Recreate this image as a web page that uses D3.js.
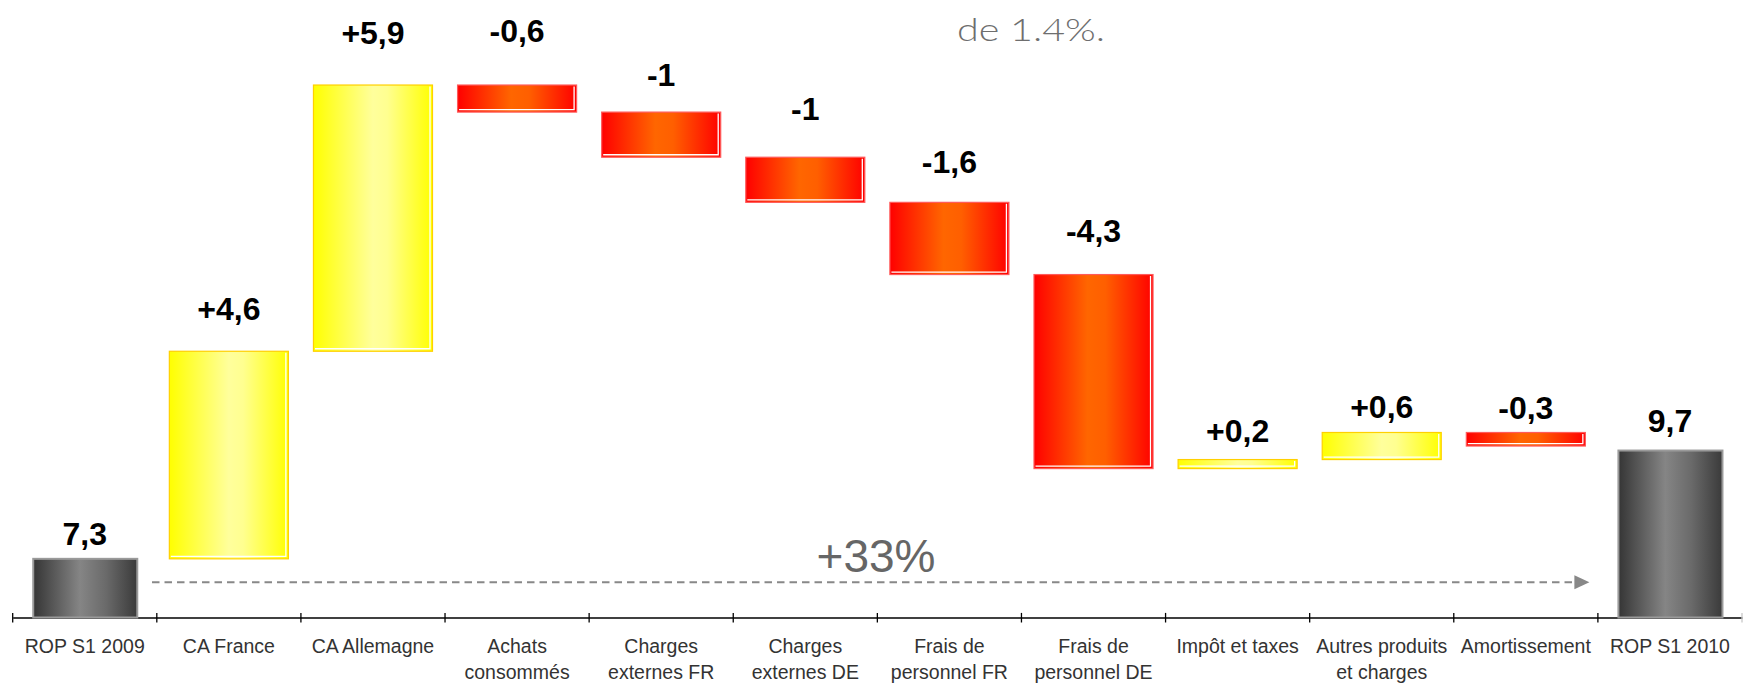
<!DOCTYPE html>
<html>
<head>
<meta charset="utf-8">
<script src="https://cdnjs.cloudflare.com/ajax/libs/d3/7.8.5/d3.min.js"></script>
<style>
  body { margin: 0; background: #fff; }
  svg { display: block; }
</style>
</head>
<body>
<div class="canvas"></div>
<script>
// chart data
const categories = ['ROP S1 2009', 'CA France', 'CA Allemagne', 'Achats\nconsommés', 'Charges\nexternes FR',
    'Charges\nexternes DE', 'Frais de\npersonnel FR', 'Frais de\npersonnel DE', 'Impôt et taxes',
    'Autres produits\net charges', 'Amortissement', 'ROP S1 2010']
const values = [7.3, 4.6, 5.9, -0.6, -1, -1, -1.6, -4.3, 0.2, 0.6, -0.3, 9.7]
const kinds = ['total', 'delta', 'delta', 'delta', 'delta', 'delta', 'delta', 'delta', 'delta', 'delta', 'delta', 'total']
const valueLabels = ['7,3', '+4,6', '+5,9', '-0,6', '-1', '-1', '-1,6', '-4,3', '+0,2', '+0,6', '-0,3', '9,7']
const yDomain = [6, 18]

// layout: how far each value label sits above its bar
const labelGap = [14, 31, 41, 43, 26, 37, 29, 33, 18, 14, 13, 19]

const width = 1744, height = 685

const svg = d3.select('.canvas').append('svg').attr('width', width).attr('height', height)

const x = d3.scaleBand()
    .domain(categories)
    .range([12.7, 1742])
    .paddingInner(0)
    .paddingOuter(0)

const y = d3.scaleLinear()
    .domain(yDomain)
    .range([617.5, 76])

// build waterfall segments
let running = 0
const bars = categories.map((c, i) => {
    let from, to
    if (kinds[i] === 'total') {
        from = yDomain[0]; to = values[i]; running = values[i]
    } else {
        from = running; to = running + values[i]; running = to
    }
    return {cat: c, v: values[i], kind: kinds[i], label: valueLabels[i], gap: labelGap[i],
        top: Math.max(from, to), bottom: Math.min(from, to)}
})

// gradients
const defs = svg.append('defs')
const grads = {
    up: [['0%', '#ffff00'], ['50%', '#ffff9c'], ['62%', '#ffff90'], ['100%', '#ffff00']],
    down: [['0%', '#ff0000'], ['45%', '#ff6600'], ['60%', '#ff5f00'], ['100%', '#ff0000']],
    total: [['0%', '#353535'], ['45%', '#858585'], ['70%', '#6a6a6a'], ['100%', '#3a3a3a']]
}
Object.entries(grads).forEach(([id, stops]) => {
    const g = defs.append('linearGradient').attr('id', 'g-' + id)
        .attr('x1', 0).attr('x2', 1).attr('y1', 0).attr('y2', 0)
    stops.forEach(s => g.append('stop').attr('offset', s[0]).attr('stop-color', s[1]))
})
const strokeFor = {up: '#ffd000', down: '#ff5a5a', total: '#9a9a9a'}

const graph = svg.append('g')

// axis with labels at band centres
const xAxisGraph = graph.append('g').attr('transform', `translate(0, ${y(yDomain[0])})`)
xAxisGraph.call(d3.axisBottom(x).tickSize(0).tickPadding(0))
xAxisGraph.select('.domain').attr('stroke', '#000').attr('stroke-width', 1.4)
xAxisGraph.selectAll('.tick text')
    .attr('font-family', 'Liberation Sans, Arial, sans-serif')
    .attr('font-size', 19.5)
    .attr('fill', '#333')
    .attr('dy', null)
    .attr('y', 0)
    .each(function(d) {
        const t = d3.select(this).text(null)
        d.split('\n').forEach((line, k) => {
            t.append('tspan').attr('x', 0).attr('y', 35.3 + k * 26.5).text(line)
        })
    })

// boundary ticks between categories
const edges = d3.range(categories.length + 1)
const edgeScale = d3.scaleLinear().domain([0, categories.length]).range(x.range())
xAxisGraph.selectAll('.edge')
    .data(edges)
    .enter()
    .append('line')
        .attr('class', 'edge')
        .attr('x1', d => edgeScale(d)).attr('x2', d => edgeScale(d))
        .attr('y1', -4.6).attr('y2', 5)
        .attr('stroke', d => d === categories.length ? '#c8c8c8' : '#000')
        .attr('stroke-width', 1.3)

// bars
const barG = graph.selectAll('g.bar')
    .data(bars)
    .enter()
    .append('g').attr('class', 'bar')

const kindOf = d => d.kind === 'total' ? 'total' : (d.v >= 0 ? 'up' : 'down')
const bw = d => x.bandwidth() * (d.kind === 'total' ? 0.722 : 0.826)
const bx = d => x(d.cat) + (x.bandwidth() - bw(d)) / 2 + (d.kind === 'total' ? 0.5 : 0)

barG.append('rect')
    .attr('x', d => bx(d))
    .attr('y', d => y(d.top))
    .attr('width', d => bw(d))
    .attr('height', d => y(d.bottom) - y(d.top))
    .attr('fill', d => `url(#g-${kindOf(d)})`)
    .attr('stroke', d => strokeFor[kindOf(d)])
    .attr('stroke-width', d => d.kind === 'total' ? 2 : 1.2)

// white inner edge on the delta bars
barG.filter(d => d.kind !== 'total')
    .append('path')
    .attr('d', d => {
        const x0 = bx(d) + 1.5, x1 = bx(d) + bw(d) - 2.5
        const y0 = y(d.top) + 1.5, y1 = y(d.bottom) - 2.5
        return `M${x1},${y0} L${x1},${y1} L${x0},${y1}`
    })
    .attr('fill', 'none')
    .attr('stroke', '#fff')
    .attr('stroke-width', 1.3)

// value labels
barG.append('text')
    .attr('x', d => x(d.cat) + x.bandwidth() / 2)
    .attr('y', d => y(d.top) - d.gap)
    .attr('text-anchor', 'middle')
    .attr('font-family', 'Liberation Sans, Arial, sans-serif')
    .attr('font-weight', 'bold')
    .attr('font-size', 32)
    .attr('fill', '#000')
    .text(d => d.label)

// growth arrow
const first = values[0], last = values[values.length - 1]
const growth = d3.format('+.0%')(last / first - 1)
const arrowY = y(6.78)
const ax0 = x(categories[1]) - 4.8
const ax1 = x(categories[categories.length - 1]) - 8.5
graph.append('line')
    .attr('x1', ax0).attr('x2', ax1 - 14)
    .attr('y1', arrowY).attr('y2', arrowY)
    .attr('stroke', '#888')
    .attr('stroke-width', 2)
    .attr('stroke-dasharray', '7.5 5')
graph.append('path')
    .attr('d', `M${ax1 - 15},${arrowY - 7} L${ax1},${arrowY} L${ax1 - 15},${arrowY + 7} Z`)
    .attr('fill', '#888')
graph.append('text')
    .attr('x', 876)
    .attr('y', arrowY - 10.5)
    .attr('text-anchor', 'middle')
    .attr('font-family', 'Liberation Sans, Arial, sans-serif')
    .attr('font-size', 46)
    .attr('fill', '#666')
    .text(growth)

// leftover caption fragment at the top
svg.append('text')
    .attr('x', 957)
    .attr('y', 40.7)
    .attr('font-family', 'Lato, sans-serif')
    .attr('font-weight', 300)
    .attr('font-size', 31)
    .attr('fill', '#6e6e6e')
    .attr('textLength', 148)
    .attr('lengthAdjust', 'spacingAndGlyphs')
    .text('de 1.4%.')
</script>
</body>
</html>
